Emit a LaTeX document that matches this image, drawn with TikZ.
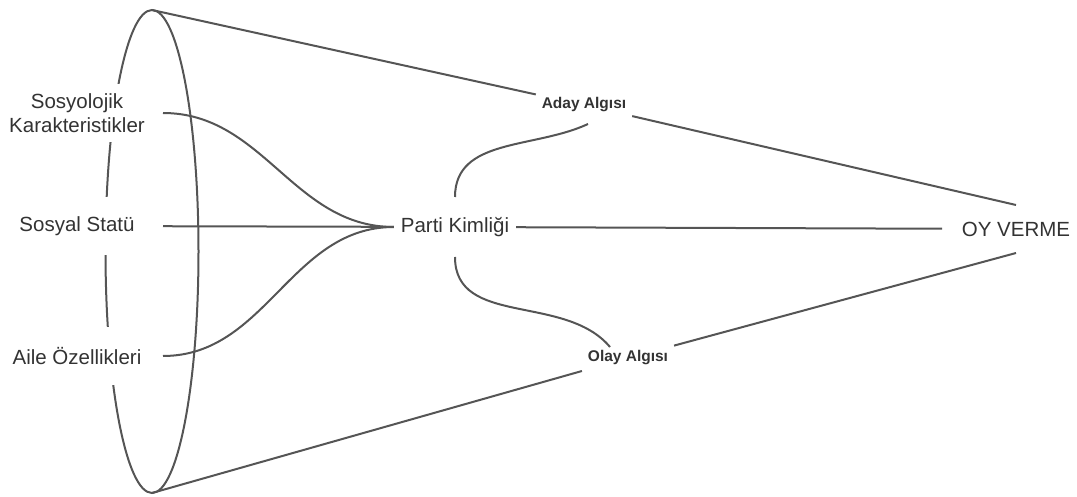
\documentclass[tikz,border=0pt]{standalone}
\usepackage{fontspec}
\setmainfont{Liberation Sans}
\usetikzlibrary{calc,positioning}
\definecolor{linegray}{HTML}{555555}
\definecolor{textgray}{HTML}{333333}

\begin{document}
\begin{tikzpicture}[x=1pt,y=-1pt,line width=2pt,color=linegray,
    lbl/.style={fill=white,text=textgray,font=\fontsize{20.5}{24}\selectfont,align=center,
        minimum height=58pt,inner xsep=6pt,inner ysep=7pt},
    side/.style={lbl,minimum width=170pt},
    algi/.style={text=textgray,font=\bfseries\fontsize{15.5}{18}\selectfont,
        inner xsep=5pt,minimum height=36pt}]
        \useasboundingbox (0,0) rectangle (1077,497);
        % koni
        \coordinate (top) at (152,10);
        \coordinate (bot) at (152,493);
        \draw (152,251.5) ellipse [x radius=46.5pt,y radius=241.5pt];

        \node[side] (sos) at (77,113) {Sosyolojik\\Karakteristikler};
        \node[side] (statu) at (77,226) {Sosyal Statü};
        \node[side] (aile) at (77,356) {Aile Özellikleri};
        \node[lbl] (parti) at (455,227) {Parti Kimliği};
        \node[algi] (aday) at (584,105) {Aday Algısı};
        \node[algi] (olay) at (628,358) {Olay Algısı};
        \node[lbl,minimum width=146pt,minimum height=46pt] (oy) at (1016,229) {OY VERME};

        \draw (top) -- (aday);
        \draw (aday) -- (oy.north);
        \draw (bot) -- (olay);
        \draw (olay) -- (oy.south);
        \draw (parti) -- (oy);
        % sol taraf
        \draw (sos.east) to[out=0,in=180] (parti.west);
        \draw (statu) -- (parti);
        \draw (aile.east) to[out=0,in=180] (parti.west);
        % algilar
        \draw (parti.north) to[out=90,in=205] ($(aday.south)+(4,0)$);
        \draw (parti.south) to[out=-90,in=130] ($(olay.north)+(-18,8)$);
        % \draw (parti) -- (aday);
    \end{tikzpicture}
\end{document}
